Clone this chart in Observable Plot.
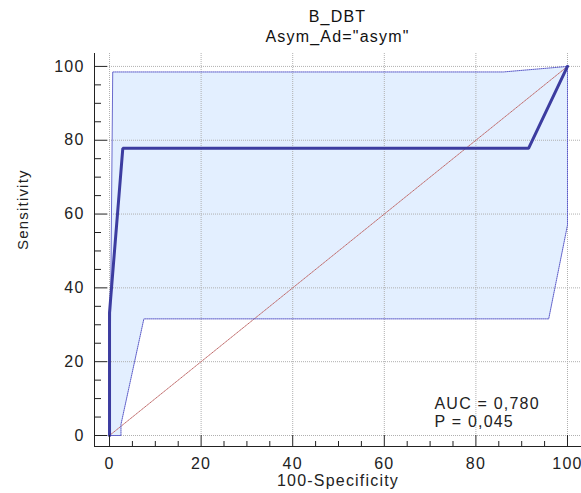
<!DOCTYPE html>
<html><head><meta charset="utf-8">
<script src="https://cdn.jsdelivr.net/npm/d3@7"></script>
<script src="https://cdn.jsdelivr.net/npm/@observablehq/plot@0.6"></script>
<style>
body{margin:0;background:#fff;font-family:"Liberation Sans",Arial,sans-serif;}
#title{height:47px;box-sizing:border-box;padding-top:7px;margin-left:94px;width:487px;text-align:center;font-size:16px;line-height:20px;letter-spacing:1.2px;color:#111;}
#chart svg text{letter-spacing:1.2px}
</style></head><body>
<div id="title"><div>B_DBT</div><div>Asym_Ad="asym"</div></div>
<div id="chart"></div>
<script>
const titleLines = ["B_DBT", 'Asym_Ad="asym"'];
const rocFpr = [0, 0, 2.9, 91.5, 100];
const rocTpr = [0, 33.3, 77.8, 77.8, 100];
const upperFpr = [0, 0.7, 86, 100];
const upperTpr = [0, 98.5, 98.5, 100];
const lowerFpr = [0, 2.5, 2.5, 7.5, 95.9, 100, 100];
const lowerTpr = [0, 0, 3, 31.6, 31.6, 57, 100];
const diagFpr = [0, 100];
const diagTpr = [0, 100];
const majorTicks = [0, 20, 40, 60, 80, 100];
const minorTicks = [5, 10, 15, 25, 30, 35, 45, 50, 55, 65, 70, 75, 85, 90, 95];
const statLines = ["AUC = 0,780", "P = 0,045"];
const xLabel = "100-Specificity";
const yLabel = "Sensitivity";

const pts = (xs, ys) => xs.map((x, i) => ({x, y: ys[i]}));
const roc = pts(rocFpr, rocTpr);
const upper = pts(upperFpr, upperTpr);
const lower = pts(lowerFpr, lowerTpr);
const band = upper.concat(lower.slice().reverse());
const diag = pts(diagFpr, diagTpr);

const lineColor = "#3c3ca0";
const gridColor = "#b0b0b0";

const chart = Plot.plot({
  width: 581,
  height: 446,
  marginLeft: 94,
  marginRight: 0,
  marginTop: 6,
  marginBottom: 47,
  style: {fontFamily: '"Liberation Sans", Arial, sans-serif', fontSize: "16px", color: "#222", overflow: "visible", background: "#fff"},
  x: {domain: [-3.28, 103.06]},
  y: {domain: [-2.98, 103.5]},
  marks: [
    Plot.line(band, {x: "x", y: "y", fill: "#e3efff", stroke: "none"}),
    Plot.ruleX(majorTicks, {x: d => d, stroke: gridColor, strokeDasharray: "1,1", insetBottom: 11}),
    Plot.ruleY(majorTicks, {y: d => d, stroke: gridColor, strokeDasharray: "1,1", insetLeft: 13}),
    Plot.line(diag, {x: "x", y: "y", stroke: "#c06a6a", strokeWidth: 1, strokeDasharray: "1,1"}),
    Plot.line(upper, {x: "x", y: "y", stroke: "#5a5ac8", strokeWidth: 1, strokeDasharray: "1,1"}),
    Plot.line(lower, {x: "x", y: "y", stroke: "#5a5ac8", strokeWidth: 1, strokeDasharray: "1,1"}),
    Plot.line(roc, {x: "x", y: "y", stroke: lineColor, strokeWidth: 3, strokeLinejoin: "miter"}),
    Plot.frame({anchor: "left", stroke: "#222"}),
    Plot.frame({anchor: "bottom", stroke: "#222"}),
    Plot.axisX({ticks: majorTicks, anchor: "bottom", tickSize: -11, text: null, label: null, stroke: "#222"}),
    Plot.axisX({ticks: minorTicks, anchor: "bottom", tickSize: -5, text: null, label: null, stroke: "#222"}),
    Plot.axisY({ticks: majorTicks, anchor: "left", tickSize: -13, text: null, label: null, stroke: "#222"}),
    Plot.axisY({ticks: minorTicks, anchor: "left", tickSize: -7, text: null, label: null, stroke: "#222"}),
    Plot.axisX({ticks: majorTicks, anchor: "bottom", tickSize: 0, tickPadding: 11, label: null, fontSize: 16, fill: "#222"}),
    Plot.axisY({ticks: majorTicks, anchor: "left", tickSize: 0, tickPadding: 10, label: null, fontSize: 16, fill: "#222"}),
    Plot.text([xLabel], {frameAnchor: "bottom", dy: 39, fontSize: 16, fill: "#222"}),
    Plot.text([yLabel], {frameAnchor: "left", rotate: -90, dx: -71, fontSize: 15, fill: "#222"}),
    Plot.text([statLines.join("\n")], {frameAnchor: "bottom-right", textAnchor: "start", lineAnchor: "middle", dx: -147, dy: -34, lineHeight: 1.14, fontSize: 16, fill: "#222"})
  ]
});
document.getElementById("chart").appendChild(chart);
</script>
</body></html>
